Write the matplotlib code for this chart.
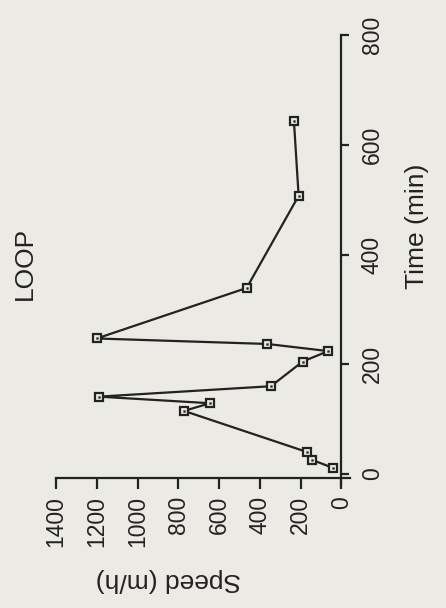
import matplotlib
matplotlib.use("Agg")
import matplotlib.pyplot as plt

# Speed of the LOOP run over time
time_min = [11, 26, 40, 115, 129, 141, 160, 205, 224, 237, 247, 339, 507, 643]
speed_mh = [40, 146, 168, 772, 645, 1190, 346, 190, 65, 364, 1200, 465, 210, 233]

speed_ticks = [0, 200, 400, 600, 800, 1000, 1200, 1400]
time_ticks = [0, 200, 400, 600, 800]

title_text = "LOOP"
speed_label = "Speed (m/h)"
time_label = "Time (min)"

plt.rcParams["font.family"] = ["Liberation Sans", "DejaVu Sans"]

paper = "#ebeae5"
ink = "#222222"

fig = plt.figure(figsize=(4.46, 6.08), dpi=100, facecolor=paper)
# The page is laid out sideways: speed runs right-to-left along the bottom,
# time runs upward along the right side.
ax = fig.add_axes([56 / 446, 1 - 485 / 608, 294 / 446, 450 / 608])
ax.set_facecolor(paper)

ax.plot(speed_mh, time_min, color=ink, lw=1.6, marker="s", ms=5.6,
        mfc=paper, mec=ink, mew=1.6, zorder=3)
ax.plot(speed_mh, time_min, ls="none", marker="s", ms=1.3,
        mfc=ink, mec=ink, mew=0.3, zorder=4)

ax.set_xlim(1400, -42)
ax.set_ylim(-20, 800)

for side in ("left", "top"):
    ax.spines[side].set_visible(False)
ax.spines["right"].set_position(("data", 0))
ax.spines["bottom"].set_position(("data", -7))
for side in ("right", "bottom"):
    ax.spines[side].set_color(ink)
    ax.spines[side].set_linewidth(1.6)

ax.yaxis.tick_right()
ax.set_xticks(speed_ticks)
ax.set_xticklabels([str(v) for v in speed_ticks], rotation=90)
ax.set_yticks(time_ticks)
ax.set_yticklabels([str(v) for v in time_ticks], rotation=90, va="center")

ax.tick_params(axis="x", direction="out", length=8, width=1.6, color=ink,
               labelsize=16.5, labelcolor=ink, pad=5)
ax.tick_params(axis="y", direction="out", length=6, width=1.6, color=ink,
               labelsize=16.5, labelcolor=ink, pad=8)

ax.set_xlabel(speed_label, fontsize=19, color=ink, rotation=180,
              ha="center", va="center")
ax.xaxis.set_label_coords((168 - 56) / 294, (485 - 580) / 450)

ax.yaxis.set_label_position("right")
ax.set_ylabel(time_label, fontsize=19, color=ink, rotation=90,
              ha="center", va="center")
ax.yaxis.set_label_coords((417 - 56) / 294, (485 - 226.5) / 450)

fig.text(25 / 446, 1 - 263.5 / 608, title_text, fontsize=19, color=ink,
         rotation=90, ha="center", va="center")

fig.savefig("out.png", dpi=100, facecolor=paper)
